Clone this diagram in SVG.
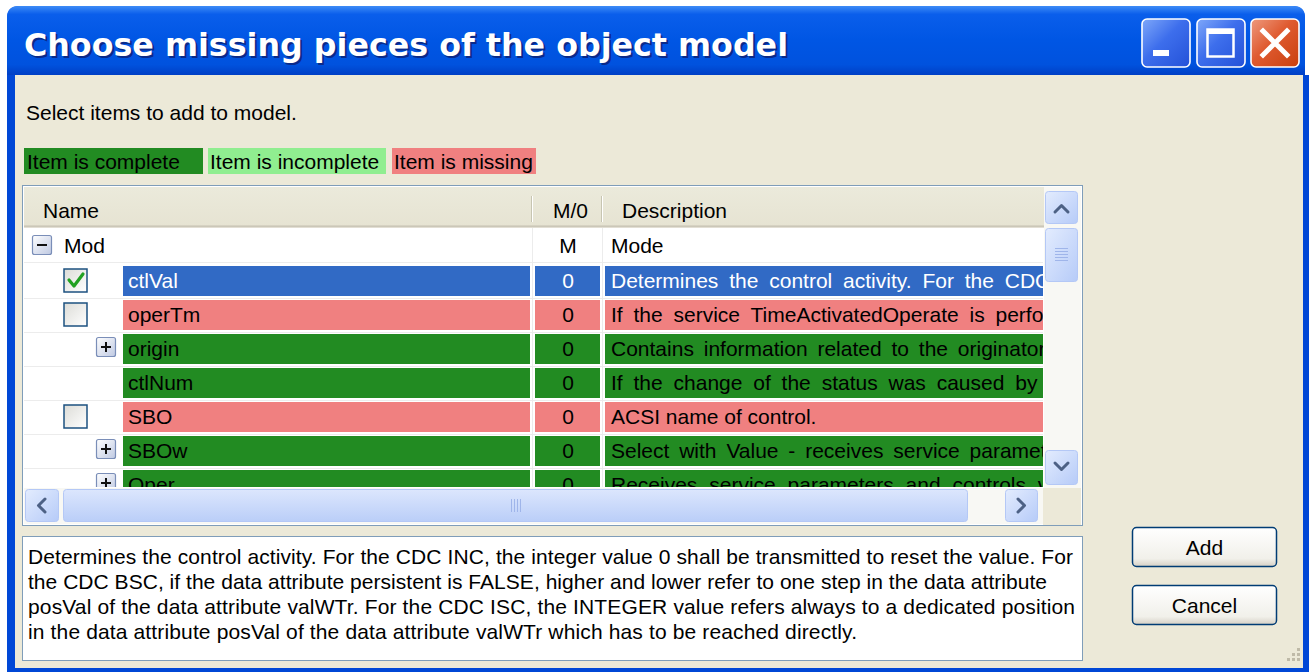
<svg xmlns="http://www.w3.org/2000/svg" width="1309" height="672" viewBox="0 0 1309 672">
<defs>
<style>
.t{font-family:"Liberation Sans",Arial,sans-serif;font-size:21px;fill:#000}
.w{fill:#fff}
.ttl{font-family:"DejaVu Sans","Liberation Sans",sans-serif;font-weight:bold;font-size:32px}
.cell{stroke:none}
.dg{fill:#228B22}
.lg{fill:#90EE90}
.rd{fill:#F08080}
.bl{fill:#316AC5}
.grid{stroke:#ECECEC;stroke-width:1}
.sbtn{fill:url(#sbg);stroke:#B4C8F6;stroke-width:1}
.chev{fill:none;stroke:#4D6185;stroke-width:3;stroke-linecap:round;stroke-linejoin:round}
.cb{fill:url(#cbg);stroke:#1C5180;stroke-width:1.5}
.ex{fill:url(#exg);stroke:#7A8EB8;stroke-width:1.2}
.sign{stroke:#111;stroke-width:2}
.btn{fill:url(#btng);stroke:#003C74;stroke-width:1.5}
</style>
<linearGradient id="titleg" x1="0" y1="0" x2="0" y2="1">
<stop offset="0" stop-color="#3D8BF6"/>
<stop offset="0.12" stop-color="#0A5EEB"/>
<stop offset="0.5" stop-color="#0056E4"/>
<stop offset="0.85" stop-color="#0052DE"/>
<stop offset="1" stop-color="#003FC5"/>
</linearGradient>
<linearGradient id="frameg" x1="0" y1="0" x2="0" y2="1">
<stop offset="0" stop-color="#0058EE"/>
<stop offset="1" stop-color="#0831D9"/>
</linearGradient>
<linearGradient id="tbb" x1="0" y1="0" x2="1" y2="1">
<stop offset="0" stop-color="#7FA8FA"/>
<stop offset="0.45" stop-color="#3D6EEC"/>
<stop offset="1" stop-color="#2451D8"/>
</linearGradient>
<linearGradient id="tbc" x1="0" y1="0" x2="1" y2="1">
<stop offset="0" stop-color="#EE9A7E"/>
<stop offset="0.45" stop-color="#DF5A30"/>
<stop offset="1" stop-color="#C9400E"/>
</linearGradient>
<linearGradient id="sbg" x1="0" y1="0" x2="1" y2="1">
<stop offset="0" stop-color="#E3ECFE"/>
<stop offset="1" stop-color="#B6CBF8"/>
</linearGradient>
<linearGradient id="sbh" x1="0" y1="0" x2="0" y2="1">
<stop offset="0" stop-color="#DCE6FD"/>
<stop offset="1" stop-color="#BACEF8"/>
</linearGradient>
<linearGradient id="cbg" x1="0" y1="0" x2="1" y2="1">
<stop offset="0" stop-color="#DCDCD7"/>
<stop offset="1" stop-color="#FFFFFF"/>
</linearGradient>
<linearGradient id="exg" x1="0" y1="0" x2="1" y2="1">
<stop offset="0" stop-color="#FFFFFF"/>
<stop offset="1" stop-color="#BFC9E2"/>
</linearGradient>
<linearGradient id="btng" x1="0" y1="0" x2="0" y2="1">
<stop offset="0" stop-color="#FFFFFF"/>
<stop offset="0.8" stop-color="#F1F0EA"/>
<stop offset="1" stop-color="#D6D0C5"/>
</linearGradient>
<linearGradient id="hdrg" x1="0" y1="0" x2="0" y2="1">
<stop offset="0" stop-color="#EBEADB"/>
<stop offset="1" stop-color="#E6E3D2"/>
</linearGradient>
<clipPath id="listclip"><rect x="24" y="228" width="1019" height="259"/></clipPath>
</defs>

<rect x="0" y="0" width="1309" height="672" fill="#FFFFFF"/>

<g id="window">
<path d="M7,672 V18 Q7,6 19,6 H1293 Q1305,6 1305,18 V672 Z" fill="url(#frameg)"/>
<rect x="7" y="75" width="1302" height="597" fill="#0047D6"/>
<path d="M7,75 V18 Q7,6 19,6 H1293 Q1305,6 1305,18 V75 Z" fill="url(#titleg)"/>
<rect x="15" y="75" width="1288" height="593" fill="#ECE9D8"/>
<text class="ttl" x="26" y="58" fill="#0A2A8A" textLength="764" lengthAdjust="spacingAndGlyphs">Choose missing pieces of the object model</text>
<text class="ttl" x="24" y="56" fill="#FFFFFF" textLength="764" lengthAdjust="spacingAndGlyphs">Choose missing pieces of the object model</text>
</g>

<g id="titlebuttons">
<rect x="1142" y="19" width="48" height="48" rx="5" fill="url(#tbb)" stroke="#FFFFFF" stroke-width="1.6"/>
<rect x="1153" y="50" width="16" height="6" fill="#FFFFFF"/>
<rect x="1197" y="19" width="48" height="48" rx="5" fill="url(#tbb)" stroke="#FFFFFF" stroke-width="1.6"/>
<rect x="1207.5" y="29.5" width="26" height="27" fill="none" stroke="#FFFFFF" stroke-width="2.5"/>
<rect x="1207" y="29" width="27" height="5" fill="#FFFFFF"/>
<rect x="1251" y="19" width="48" height="48" rx="5" fill="url(#tbc)" stroke="#FFFFFF" stroke-width="1.6"/>
<path d="M1263,31 L1287,55 M1287,31 L1263,55" stroke="#FFFFFF" stroke-width="5" stroke-linecap="square"/>
</g>

<g id="prompt">
<text class="t" x="26" y="120">Select items to add to model.</text>
</g>

<g id="legend">
<rect x="24" y="148" width="179" height="26" class="dg"/>
<text class="t" x="27" y="169">Item is complete</text>
<rect x="208" y="148" width="178" height="26" class="lg"/>
<text class="t" x="210" y="169">Item is incomplete</text>
<rect x="392" y="148" width="144" height="26" class="rd"/>
<text class="t" x="394" y="169">Item is missing</text>
</g>

<g id="listview">
<rect x="22.5" y="185.5" width="1060" height="340" fill="#FFFFFF" stroke="#7F9DB9"/>
<rect x="24" y="187" width="1020" height="41" fill="url(#hdrg)"/>
<line x1="24" y1="225.5" x2="1044" y2="225.5" stroke="#D6D2C2"/>
<line x1="24" y1="226.5" x2="1044" y2="226.5" stroke="#CBC7B8"/>
<line x1="24" y1="227.5" x2="1044" y2="227.5" stroke="#E2DED3"/>
<line x1="531.5" y1="196" x2="531.5" y2="222" stroke="#C7C5B2"/>
<line x1="532.5" y1="196" x2="532.5" y2="222" stroke="#FFFFFF"/>
<line x1="601.5" y1="196" x2="601.5" y2="222" stroke="#C7C5B2"/>
<line x1="602.5" y1="196" x2="602.5" y2="222" stroke="#FFFFFF"/>
<text class="t" x="43" y="218">Name</text>
<text class="t" x="553" y="218">M/0</text>
<text class="t" x="622" y="218">Description</text>

<g clip-path="url(#listclip)">
<g id="gridlines">
<line class="grid" x1="24" y1="262.5" x2="1043" y2="262.5"/>
<line class="grid" x1="24" y1="298.5" x2="1043" y2="298.5"/>
<line class="grid" x1="24" y1="332.5" x2="1043" y2="332.5"/>
<line class="grid" x1="24" y1="366.5" x2="1043" y2="366.5"/>
<line class="grid" x1="24" y1="400.5" x2="1043" y2="400.5"/>
<line class="grid" x1="24" y1="434.5" x2="1043" y2="434.5"/>
<line class="grid" x1="24" y1="468.5" x2="1043" y2="468.5"/>
<line class="grid" x1="532.5" y1="228" x2="532.5" y2="487"/>
<line class="grid" x1="602.5" y1="228" x2="602.5" y2="487"/>
</g>

<g id="row-mod">
<rect class="ex" x="32.5" y="235.5" width="19" height="19" rx="2"/>
<line class="sign" x1="37" y1="245" x2="47" y2="245"/>
<text class="t" x="64" y="253">Mod</text>
<text class="t" x="568" y="253" text-anchor="middle">M</text>
<text class="t" x="611" y="253">Mode</text>
</g>

<g id="row-ctlVal">
<rect class="cb" x="64" y="269" width="23" height="23"/>
<path d="M69,280 L74,286 L83,274" fill="none" stroke="#21A121" stroke-width="3.2" stroke-linecap="round" stroke-linejoin="round"/>
<rect class="bl" x="123" y="266" width="407" height="30"/>
<rect class="bl" x="535" y="266" width="65" height="30"/>
<rect class="bl" x="605" y="266" width="438" height="30"/>
<text class="t w" x="128" y="288">ctlVal</text>
<text class="t w" x="568" y="288" text-anchor="middle">0</text>
<text class="t w" x="611" y="288" word-spacing="5">Determines the control activity. For the CDC INC, the integer</text>
</g>

<g id="row-operTm">
<rect class="cb" x="64" y="303" width="23" height="23"/>
<rect class="rd" x="123" y="300" width="407" height="30"/>
<rect class="rd" x="535" y="300" width="65" height="30"/>
<rect class="rd" x="605" y="300" width="438" height="30"/>
<text class="t" x="128" y="322">operTm</text>
<text class="t" x="568" y="322" text-anchor="middle">0</text>
<text class="t" x="611" y="322" word-spacing="5">If the service TimeActivatedOperate is performed</text>
</g>

<g id="row-origin">
<rect class="ex" x="96.5" y="337.5" width="19" height="19" rx="2"/>
<line class="sign" x1="101" y1="347" x2="111" y2="347"/>
<line class="sign" x1="106" y1="342" x2="106" y2="352"/>
<rect class="dg" x="123" y="334" width="407" height="30"/>
<rect class="dg" x="535" y="334" width="65" height="30"/>
<rect class="dg" x="605" y="334" width="438" height="30"/>
<text class="t" x="128" y="356">origin</text>
<text class="t" x="568" y="356" text-anchor="middle">0</text>
<text class="t" x="611" y="356" word-spacing="4">Contains information related to the originator of the last</text>
</g>

<g id="row-ctlNum">
<rect class="dg" x="123" y="368" width="407" height="30"/>
<rect class="dg" x="535" y="368" width="65" height="30"/>
<rect class="dg" x="605" y="368" width="438" height="30"/>
<text class="t" x="128" y="390">ctlNum</text>
<text class="t" x="568" y="390" text-anchor="middle">0</text>
<text class="t" x="611" y="390" word-spacing="5">If the change of the status was caused by a control</text>
</g>

<g id="row-SBO">
<rect class="cb" x="64" y="405" width="23" height="23"/>
<rect class="rd" x="123" y="402" width="407" height="30"/>
<rect class="rd" x="535" y="402" width="65" height="30"/>
<rect class="rd" x="605" y="402" width="438" height="30"/>
<text class="t" x="128" y="424">SBO</text>
<text class="t" x="568" y="424" text-anchor="middle">0</text>
<text class="t" x="611" y="424">ACSI name of control.</text>
</g>

<g id="row-SBOw">
<rect class="ex" x="96.5" y="439.5" width="19" height="19" rx="2"/>
<line class="sign" x1="101" y1="449" x2="111" y2="449"/>
<line class="sign" x1="106" y1="444" x2="106" y2="454"/>
<rect class="dg" x="123" y="436" width="407" height="30"/>
<rect class="dg" x="535" y="436" width="65" height="30"/>
<rect class="dg" x="605" y="436" width="438" height="30"/>
<text class="t" x="128" y="458">SBOw</text>
<text class="t" x="568" y="458" text-anchor="middle">0</text>
<text class="t" x="611" y="458" word-spacing="4">Select with Value - receives service parameters</text>
</g>

<g id="row-Oper">
<rect class="ex" x="96.5" y="473.5" width="19" height="19" rx="2"/>
<line class="sign" x1="101" y1="483" x2="111" y2="483"/>
<line class="sign" x1="106" y1="478" x2="106" y2="488"/>
<rect class="dg" x="123" y="470" width="407" height="30"/>
<rect class="dg" x="535" y="470" width="65" height="30"/>
<rect class="dg" x="605" y="470" width="438" height="30"/>
<text class="t" x="128" y="492">Oper</text>
<text class="t" x="568" y="492" text-anchor="middle">0</text>
<text class="t" x="611" y="492" word-spacing="6">Receives service parameters and controls value</text>
</g>
</g>

<g id="vscroll">
<rect x="1044" y="187" width="37" height="301" fill="#F8F8F4"/>
<rect class="sbtn" x="1045.5" y="191.5" width="32" height="32" rx="3"/>
<polyline class="chev" points="1055,212 1061.5,205.5 1068,212"/>
<rect class="sbtn" x="1045.5" y="228.5" width="32" height="53" rx="3"/>
<path d="M1055,248.5 H1068 M1055,251.5 H1068 M1055,254.5 H1068 M1055,257.5 H1068 M1055,260.5 H1068" stroke="#9FB5EA" stroke-width="1"/>
<rect class="sbtn" x="1045.5" y="450.5" width="32" height="34" rx="3"/>
<polyline class="chev" points="1055,463 1061.5,469.5 1068,463"/>
</g>

<g id="hscroll">
<rect x="24" y="488" width="1020" height="36" fill="#F8F8F4"/>
<rect x="1043" y="488" width="38" height="37" fill="#ECE9D8"/>
<rect class="sbtn" x="25.5" y="489.5" width="33" height="32" rx="3"/>
<polyline class="chev" points="45,499 38.5,505.5 45,512"/>
<rect x="63.5" y="489.5" width="904" height="32" rx="3" fill="url(#sbh)" stroke="#B4C8F6"/>
<path d="M511.5,499 V512 M514.5,499 V512 M517.5,499 V512 M520.5,499 V512" stroke="#9FB5EA" stroke-width="1"/>
<rect class="sbtn" x="1005.5" y="489.5" width="32" height="32" rx="3"/>
<polyline class="chev" points="1018,499 1024.5,505.5 1018,512"/>
</g>
</g>

<g id="details">
<rect x="22.5" y="536.5" width="1060" height="124" fill="#FFFFFF" stroke="#7F9DB9"/>
<text class="t" x="28" y="564" textLength="1045" lengthAdjust="spacing">Determines the control activity. For the CDC INC, the integer value 0 shall be transmitted to reset the value. For</text>
<text class="t" x="28" y="589" textLength="1019" lengthAdjust="spacing">the CDC BSC, if the data attribute persistent is FALSE, higher and lower refer to one step in the data attribute</text>
<text class="t" x="28" y="614" textLength="1047" lengthAdjust="spacing">posVal of the data attribute valWTr. For the CDC ISC, the INTEGER value refers always to a dedicated position</text>
<text class="t" x="28" y="639" textLength="829" lengthAdjust="spacing">in the data attribute posVal of the data attribute valWTr which has to be reached directly.</text>
</g>

<g id="btn-add">
<rect class="btn" x="1132.5" y="527.5" width="144" height="39" rx="4"/>
<text class="t" x="1204.5" y="555" text-anchor="middle">Add</text>
</g>
<g id="btn-cancel">
<rect class="btn" x="1132.5" y="585.5" width="144" height="39" rx="4"/>
<text class="t" x="1204.5" y="613" text-anchor="middle">Cancel</text>
</g>

<g id="grip" fill="#BFBAA8">
<rect x="1297" y="648" width="3" height="3"/>
<rect x="1292" y="653" width="3" height="3"/>
<rect x="1297" y="653" width="3" height="3"/>
<rect x="1287" y="658" width="3" height="3"/>
<rect x="1292" y="658" width="3" height="3"/>
<rect x="1297" y="658" width="3" height="3"/>
</g>
</svg>
